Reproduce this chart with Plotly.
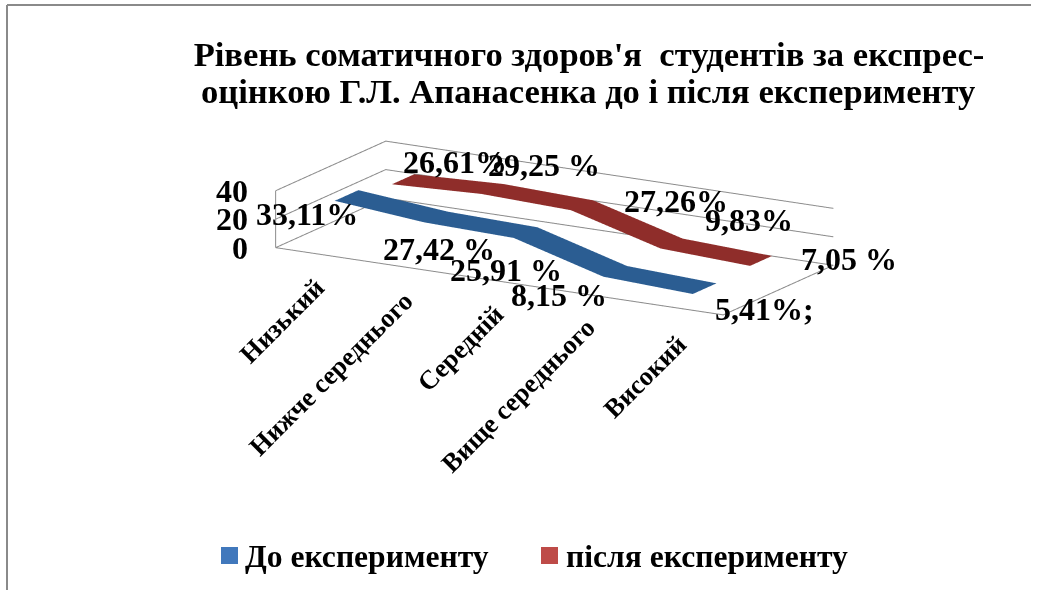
import plotly.graph_objects as go

categories = ["Низький", "Нижче середнього", "Середній", "Вище середнього", "Високий"]
series_names = ["До експерименту", "після експерименту"]
before_values = [33.11, 27.42, 25.91, 8.15, 5.41]
after_values = [26.61, 29.25, 27.26, 9.83, 7.05]
before_labels = ["33,11%", "27,42 %", "25,91 %", "8,15 %", "5,41%;"]
after_labels = ["26,61%", "29,25 %", "27,26%", "9,83%", "7,05 %"]
value_ticks = [0, 20, 40]

SERIF = "Liberation Serif"
W, H = 1044, 590
positions = list(range(len(categories)))
XR = [-0.5, 4.5]
YR = [0, 1]
ZR = [0, 40]
# the axes reach slightly past the frame so that it is not cut at the clip bounds
PAD_X, PAD_Y, PAD_Z = 0.02, 0.01, 0.5

fig = go.Figure()


def ribbon(vals, y0, y1, color, name):
    fig.add_trace(go.Surface(
        x=positions, y=[y0, y1], z=[vals, vals],
        colorscale=[[0, color], [1, color]], showscale=False,
        lighting=dict(ambient=1, diffuse=0, specular=0, roughness=1, fresnel=0),
        hoverinfo="skip", name=name))


ribbon(before_values, 0.13, 0.345, "#2B5D92", series_names[0])
ribbon(after_values, 0.65, 0.85, "#8F2D2A", series_names[1])

# frame
frame = [
    ([XR[0], XR[1], XR[1], XR[0], XR[0]], [YR[0], YR[0], YR[1], YR[1], YR[0]], [0, 0, 0, 0, 0]),
    ([XR[0], XR[0]], [YR[0], YR[0]], [ZR[0], ZR[1]]),
    ([XR[0], XR[0], XR[1]], [YR[0], YR[1], YR[1]], [20, 20, 20]),
    ([XR[0], XR[0], XR[1]], [YR[0], YR[1], YR[1]], [40, 40, 40]),
]
for fx, fy, fz in frame:
    fig.add_trace(go.Scatter3d(x=fx, y=fy, z=fz, mode="lines",
                               line=dict(color="#8c8c8c", width=2),
                               hoverinfo="skip", showlegend=False))

annos = []
lab_font = dict(family=SERIF, size=32, color="#000000", weight="bold")
before_shift = [(-28, -13), (15, -27), (-8, -32), (-44, -18), (72, -15)]
after_shift = [(63, 22), (62, 29), (105, 9), (88, 28), (99, 7)]
cat_shift = [(12, -16), (11, -16), (13, -15), (15, -15), (17, -18)]
for p, v, t, s in zip(positions, before_values, before_labels, before_shift):
    annos.append(dict(x=p, y=0.13, z=v, text=t, showarrow=False, font=lab_font, xshift=s[0], yshift=s[1]))
for p, v, t, s in zip(positions, after_values, after_labels, after_shift):
    annos.append(dict(x=p, y=0.65, z=v, text=t, showarrow=False, font=lab_font, xshift=s[0], yshift=s[1]))
for t in value_ticks:
    annos.append(dict(x=XR[0], y=0, z=t, text=str(t), showarrow=False, font=lab_font, xanchor="right", xshift=-26))
for p, c, s in zip(positions, categories, cat_shift):
    annos.append(dict(x=p, y=0, z=0, text=c, showarrow=False, textangle=-45, xanchor="right", yanchor="top",
                      font=dict(family=SERIF, size=26.5, color="#000000", weight="bold"), xshift=s[0], yshift=s[1]))

hidden = dict(showgrid=False, showticklabels=False, showline=False, zeroline=False,
              showbackground=False, showspikes=False, title=dict(text=""), ticks="")

title_font = dict(family=SERIF, size=34.6, color="#000000", weight="bold")
legend_font = dict(family=SERIF, size=31.6, color="#000000", weight="bold")


def px(x):
    return x / W


def py(y):
    return 1 - y / H


paper_annos = [
    dict(xref="paper", yref="paper", x=px(588), y=py(91), xanchor="center", yanchor="middle", showarrow=False,
         text="оцінкою Г.Л. Апанасенка до і після експерименту", font=title_font),
    dict(xref="paper", yref="paper", x=px(243), y=py(556), xanchor="left", yanchor="middle", showarrow=False,
         text=series_names[0], font=legend_font),
    dict(xref="paper", yref="paper", x=px(564), y=py(556), xanchor="left", yanchor="middle", showarrow=False,
         text=series_names[1], font=legend_font),
]

shapes = [
    dict(type="line", xref="paper", yref="paper", x0=px(7), x1=px(7), y0=0, y1=py(5),
         line=dict(color="#8a8a8a", width=2)),
    dict(type="line", xref="paper", yref="paper", x0=px(7), x1=px(1031), y0=py(5), y1=py(5),
         line=dict(color="#8a8a8a", width=2)),
    dict(type="rect", xref="paper", yref="paper", x0=px(221), x1=px(238), y0=py(564), y1=py(547),
         fillcolor="#4178BC", line=dict(width=0)),
    dict(type="rect", xref="paper", yref="paper", x0=px(541), x1=px(558), y0=py(564), y1=py(547),
         fillcolor="#BE4B48", line=dict(width=0)),
]

fig.update_layout(
    width=W, height=H,
    margin=dict(l=0, r=0, t=0, b=0),
    paper_bgcolor="#ffffff",
    showlegend=False,
    title=dict(text="Рівень соматичного здоров'я  студентів за експрес-",
               x=px(589), xanchor="center", y=py(54), yanchor="middle", font=title_font),
    scene=dict(
        domain=dict(x=[0.0624, 1.0], y=[0.2272, 1.0]),
        xaxis=dict(range=[XR[0] - PAD_X, XR[1] + PAD_X], **hidden),
        yaxis=dict(range=[YR[0] - PAD_Y, YR[1] + PAD_Y], **hidden),
        zaxis=dict(range=[ZR[0] - PAD_Z, ZR[1] + PAD_Z], **hidden),
        aspectmode="manual",
        aspectratio=dict(x=2.285, y=0.985, z=0.265),
        camera=dict(projection=dict(type="orthographic"),
                    up=dict(x=0, y=0, z=1),
                    center=dict(x=0, y=0, z=0),
                    eye=dict(x=0.5 * 0.965 * 1.87, y=-0.866 * 0.965 * 1.87, z=0.26 * 1.87)),
        annotations=annos,
    ),
    annotations=paper_annos,
    shapes=shapes,
)
fig.write_html("out.html", config={"displayModeBar": False},
               post_script="document.body.style.margin='0';")
